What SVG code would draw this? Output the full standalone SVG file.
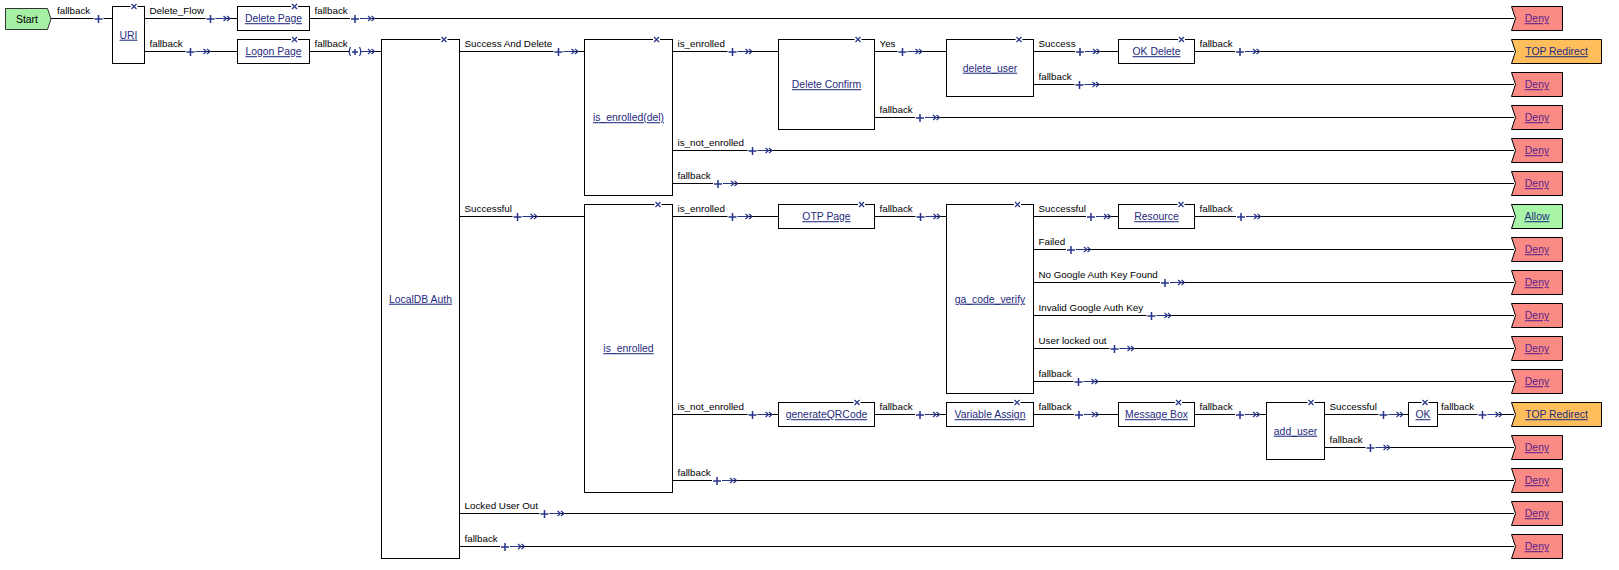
<svg xmlns="http://www.w3.org/2000/svg" xmlns:xlink="http://www.w3.org/1999/xlink" width="1619" height="570" viewBox="0 0 1619 570">
<style>
  text { font-family: "Liberation Sans", Arial, sans-serif; }
  .box { fill: #fff; stroke: #000; stroke-width: 1; }
  .lnk { font-size: 10.4px; fill: #1f2a80; text-anchor: middle; text-decoration: underline; }
  .dlnk { font-size: 10.4px; fill: #5a1f8c; text-anchor: middle; text-decoration: underline; }
  .lbl { font-size: 9.8px; fill: #000; }
  .wire { stroke: #000; stroke-width: 1; fill: none; }
  .nv { stroke: #26348a; stroke-width: 1.2; fill: none; }
  .pl { stroke: #26348a; stroke-width: 1.5; fill: none; }
  .deny { fill: #f98b84; stroke: #000; stroke-width: 1; }
  .top { fill: #ffbe5c; stroke: #000; stroke-width: 1; }
  .allow { fill: #a8f5a8; stroke: #000; stroke-width: 1; }
</style>
<defs>
  <polygon id="flag" points="0,0 51,0 51,24 0,24 4,12"/>
  <polygon id="flagw" points="0,0 90,0 90,24 0,24 4,12"/>
  <g id="xm"><rect x="-3.5" y="-1" width="7" height="2" fill="#fff"/><path class="nv" d="M-2.5,-2.5L2.5,2.5M2.5,-2.5L-2.5,2.5"/></g>
  <g id="pa"><rect x="-5" y="-5" width="10" height="10" fill="#fff"/><path class="pl" d="M-4,0.5H4M0,-3.5V4.5"/><path class="nv" d="M5.5,0H16M13,-2.5L16,0L13,2.5M16.5,-2.5L19.5,0L16.5,2.5"/></g>
  <g id="pp"><rect x="-5" y="-5" width="10" height="10" fill="#fff"/><path class="pl" d="M-4,0.5H4M0,-3.5V4.5"/></g>
  <g id="pc"><rect x="-6" y="-5" width="12" height="10" fill="#fff"/><path class="pl" d="M-3,0.5H3M0,-2.5V3.5"/><path class="nv" d="M-4.5,-4.5Q-7,0 -4.5,4.5M4.5,-4.5Q7,0 4.5,4.5M6.5,0H16M13,-2.5L16,0L13,2.5M16.5,-2.5L19.5,0L16.5,2.5"/></g>
</defs>

<g id="connectors">
  <path class="wire" d="M51,18.5H112.5 M144.5,18.5H237.5 M144.5,51.5H237.5 M309.5,18.5H1514 M309.5,51.5H381.5
    M459.5,51.5H584.5 M672.5,51.5H778.5 M672.5,150.5H1514 M672.5,183.5H1514
    M874.5,51.5H946.5 M874.5,117.5H1514 M1033.5,51.5H1118.5 M1033.5,84.5H1514 M1194.5,51.5H1514
    M459.5,216.5H584.5 M672.5,216.5H778.5 M874.5,216.5H946.5 M1033.5,216.5H1118.5
    M1033.5,249.5H1514 M1033.5,282.5H1514 M1033.5,315.5H1514 M1033.5,348.5H1514 M1033.5,381.5H1514
    M1194.5,216.5H1514 M672.5,414.5H778.5 M672.5,480.5H1514 M874.5,414.5H946.5 M1033.5,414.5H1118.5
    M1194.5,414.5H1266.5 M1324.5,414.5H1408.5 M1324.5,447.5H1514 M1437.5,414.5H1514
    M459.5,513.5H1514 M459.5,546.5H1514"/>
  <use href="#pp" x="98.5" y="18.5"/>
  <use href="#pa" x="210.5" y="18.5"/>
  <use href="#pa" x="190.5" y="51.5"/>
  <use href="#pa" x="355" y="18.5"/>
  <use href="#pc" x="355" y="51.5"/>
  <use href="#pa" x="558.5" y="51.5"/>
  <use href="#pa" x="732.5" y="51.5"/>
  <use href="#pa" x="752.5" y="150.5"/>
  <use href="#pa" x="718" y="183.5"/>
  <use href="#pa" x="902.5" y="51.5"/>
  <use href="#pa" x="920" y="117.5"/>
  <use href="#pa" x="1080" y="51.5"/>
  <use href="#pa" x="1079.5" y="84.5"/>
  <use href="#pa" x="1240" y="51.5"/>
  <use href="#pa" x="517.5" y="216.5"/>
  <use href="#pa" x="732.5" y="216.5"/>
  <use href="#pa" x="920.5" y="216.5"/>
  <use href="#pa" x="1091" y="216.5"/>
  <use href="#pa" x="1071" y="249.5"/>
  <use href="#pa" x="1165" y="282.5"/>
  <use href="#pa" x="1151.5" y="315.5"/>
  <use href="#pa" x="1114.5" y="348.5"/>
  <use href="#pa" x="1078.5" y="381.5"/>
  <use href="#pa" x="1241" y="216.5"/>
  <use href="#pa" x="752.5" y="414.5"/>
  <use href="#pa" x="717" y="480.5"/>
  <use href="#pa" x="920" y="414.5"/>
  <use href="#pa" x="1079" y="414.5"/>
  <use href="#pa" x="1240" y="414.5"/>
  <use href="#pa" x="1383.5" y="414.5"/>
  <use href="#pa" x="1370.5" y="447.5"/>
  <use href="#pa" x="1482.5" y="414.5"/>
  <use href="#pa" x="544.5" y="513.5"/>
  <use href="#pa" x="505" y="546.5"/>

  <text class="lbl" x="57" y="14">fallback</text>
  <text class="lbl" x="149.5" y="14">Delete_Flow</text>
  <text class="lbl" x="149.5" y="47">fallback</text>
  <text class="lbl" x="314.5" y="14">fallback</text>
  <text class="lbl" x="314.5" y="47">fallback</text>
  <text class="lbl" x="464.5" y="47">Success And Delete</text>
  <text class="lbl" x="677.5" y="47">is_enrolled</text>
  <text class="lbl" x="677.5" y="146">is_not_enrolled</text>
  <text class="lbl" x="677.5" y="179">fallback</text>
  <text class="lbl" x="879.5" y="47">Yes</text>
  <text class="lbl" x="879.5" y="113">fallback</text>
  <text class="lbl" x="1038.5" y="47">Success</text>
  <text class="lbl" x="1038.5" y="80">fallback</text>
  <text class="lbl" x="1199.5" y="47">fallback</text>
  <text class="lbl" x="464.5" y="212">Successful</text>
  <text class="lbl" x="677.5" y="212">is_enrolled</text>
  <text class="lbl" x="879.5" y="212">fallback</text>
  <text class="lbl" x="1038.5" y="212">Successful</text>
  <text class="lbl" x="1038.5" y="245">Failed</text>
  <text class="lbl" x="1038.5" y="278">No Google Auth Key Found</text>
  <text class="lbl" x="1038.5" y="311">Invalid Google Auth Key</text>
  <text class="lbl" x="1038.5" y="344">User locked out</text>
  <text class="lbl" x="1038.5" y="377">fallback</text>
  <text class="lbl" x="1199.5" y="212">fallback</text>
  <text class="lbl" x="677.5" y="410">is_not_enrolled</text>
  <text class="lbl" x="677.5" y="476">fallback</text>
  <text class="lbl" x="879.5" y="410">fallback</text>
  <text class="lbl" x="1038.5" y="410">fallback</text>
  <text class="lbl" x="1199.5" y="410">fallback</text>
  <text class="lbl" x="1329.5" y="410">Successful</text>
  <text class="lbl" x="1329.5" y="443">fallback</text>
  <text class="lbl" x="1441" y="410">fallback</text>
  <text class="lbl" x="464.5" y="509">Locked User Out</text>
  <text class="lbl" x="464.5" y="542">fallback</text>
</g>

<g id="start">
  <polygon points="5.5,8.5 47.5,8.5 51,19 47.5,29.5 5.5,29.5" fill="#a6f0a6" stroke="#333" stroke-width="1"/>
  <text x="27" y="22.5" font-size="10.4" fill="#000" text-anchor="middle" font-family="Liberation Sans, Arial, sans-serif">Start</text>
</g>
<g id="uri"><rect class="box" x="112.5" y="6.5" width="32" height="57"/><use href="#xm" x="134" y="6.5"/><text class="lnk" x="128.5" y="38.7">URI</text></g>
<g id="delete-page"><rect class="box" x="237.5" y="6.5" width="72" height="24"/><use href="#xm" x="294.5" y="6.5"/><text class="lnk" x="273.5" y="22.2">Delete Page</text></g>
<g id="logon-page"><rect class="box" x="237.5" y="39.5" width="72" height="24"/><use href="#xm" x="294.5" y="39.5"/><text class="lnk" x="273.5" y="55.2">Logon Page</text></g>
<g id="localdb-auth"><rect class="box" x="381.5" y="39.5" width="78" height="519"/><use href="#xm" x="444" y="39.5"/><text class="lnk" x="420.5" y="302.7">LocalDB Auth</text></g>
<g id="is-enrolled-del"><rect class="box" x="584.5" y="39.5" width="88" height="156"/><use href="#xm" x="656.5" y="39.5"/><text class="lnk" x="628.5" y="121.2">is_enrolled(del)</text></g>
<g id="is-enrolled"><rect class="box" x="584.5" y="204.5" width="88" height="288"/><use href="#xm" x="658" y="204.5"/><text class="lnk" x="628.5" y="352.2">is_enrolled</text></g>
<g id="delete-confirm"><rect class="box" x="778.5" y="39.5" width="96" height="90"/><use href="#xm" x="858" y="39.5"/><text class="lnk" x="826.5" y="88.2">Delete Confirm</text></g>
<g id="delete-user"><rect class="box" x="946.5" y="39.5" width="87" height="57"/><use href="#xm" x="1019" y="39.5"/><text class="lnk" x="990" y="71.7">delete_user</text></g>
<g id="ok-delete"><rect class="box" x="1118.5" y="39.5" width="76" height="24"/><use href="#xm" x="1181.5" y="39.5"/><text class="lnk" x="1156.5" y="55.2">OK Delete</text></g>
<g id="otp-page"><rect class="box" x="778.5" y="204.5" width="96" height="24"/><use href="#xm" x="861.5" y="204.5"/><text class="lnk" x="826.5" y="220.2">OTP Page</text></g>
<g id="ga-code-verify"><rect class="box" x="946.5" y="204.5" width="87" height="189"/><use href="#xm" x="1017.5" y="204.5"/><text class="lnk" x="990" y="302.7">ga_code_verify</text></g>
<g id="resource"><rect class="box" x="1118.5" y="204.5" width="76" height="24"/><use href="#xm" x="1181" y="204.5"/><text class="lnk" x="1156.5" y="220.2">Resource</text></g>
<g id="generate-qr"><rect class="box" x="778.5" y="402.5" width="96" height="24"/><use href="#xm" x="857" y="402.5"/><text class="lnk" x="826.5" y="418.2">generateQRCode</text></g>
<g id="variable-assign"><rect class="box" x="946.5" y="402.5" width="87" height="24"/><use href="#xm" x="1017" y="402.5"/><text class="lnk" x="990" y="418.2">Variable Assign</text></g>
<g id="message-box"><rect class="box" x="1118.5" y="402.5" width="76" height="24"/><use href="#xm" x="1178.5" y="402.5"/><text class="lnk" x="1156.5" y="418.2">Message Box</text></g>
<g id="add-user"><rect class="box" x="1266.5" y="402.5" width="58" height="57"/><use href="#xm" x="1311" y="402.5"/><text class="lnk" x="1295.5" y="434.7">add_user</text></g>
<g id="ok"><rect class="box" x="1408.5" y="402.5" width="29" height="24"/><use href="#xm" x="1425" y="402.5"/><text class="lnk" x="1423" y="418.2">OK</text></g>

<g id="deny-0"><use href="#flag" class="deny" x="1511.5" y="6.5"/><text class="dlnk" x="1537" y="22.2">Deny</text></g>
<g id="top-redirect-1"><use href="#flagw" class="top" x="1511.5" y="39.5"/><text class="lnk" x="1556.5" y="55.2">TOP Redirect</text></g>
<g id="deny-2"><use href="#flag" class="deny" x="1511.5" y="72.5"/><text class="dlnk" x="1537" y="88.2">Deny</text></g>
<g id="deny-3"><use href="#flag" class="deny" x="1511.5" y="105.5"/><text class="dlnk" x="1537" y="121.2">Deny</text></g>
<g id="deny-4"><use href="#flag" class="deny" x="1511.5" y="138.5"/><text class="dlnk" x="1537" y="154.2">Deny</text></g>
<g id="deny-5"><use href="#flag" class="deny" x="1511.5" y="171.5"/><text class="dlnk" x="1537" y="187.2">Deny</text></g>
<g id="allow-6"><use href="#flag" class="allow" x="1511.5" y="204.5"/><text class="lnk" x="1537" y="220.2">Allow</text></g>
<g id="deny-7"><use href="#flag" class="deny" x="1511.5" y="237.5"/><text class="dlnk" x="1537" y="253.2">Deny</text></g>
<g id="deny-8"><use href="#flag" class="deny" x="1511.5" y="270.5"/><text class="dlnk" x="1537" y="286.2">Deny</text></g>
<g id="deny-9"><use href="#flag" class="deny" x="1511.5" y="303.5"/><text class="dlnk" x="1537" y="319.2">Deny</text></g>
<g id="deny-10"><use href="#flag" class="deny" x="1511.5" y="336.5"/><text class="dlnk" x="1537" y="352.2">Deny</text></g>
<g id="deny-11"><use href="#flag" class="deny" x="1511.5" y="369.5"/><text class="dlnk" x="1537" y="385.2">Deny</text></g>
<g id="top-redirect-12"><use href="#flagw" class="top" x="1511.5" y="402.5"/><text class="lnk" x="1556.5" y="418.2">TOP Redirect</text></g>
<g id="deny-13"><use href="#flag" class="deny" x="1511.5" y="435.5"/><text class="dlnk" x="1537" y="451.2">Deny</text></g>
<g id="deny-14"><use href="#flag" class="deny" x="1511.5" y="468.5"/><text class="dlnk" x="1537" y="484.2">Deny</text></g>
<g id="deny-15"><use href="#flag" class="deny" x="1511.5" y="501.5"/><text class="dlnk" x="1537" y="517.2">Deny</text></g>
<g id="deny-16"><use href="#flag" class="deny" x="1511.5" y="534.5"/><text class="dlnk" x="1537" y="550.2">Deny</text></g>
</svg>
